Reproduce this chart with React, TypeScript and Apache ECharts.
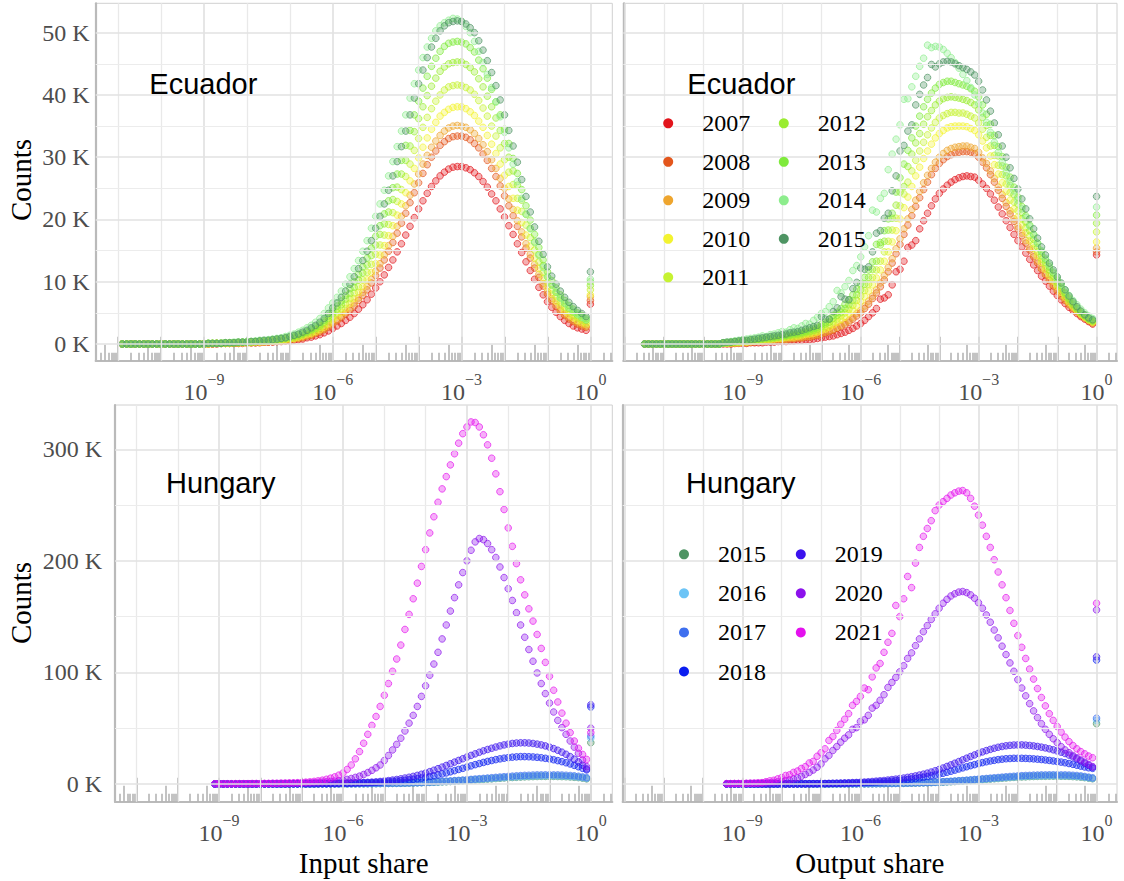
import React, { useEffect, useRef } from "react";
import * as echarts from "echarts";

const SERIF = '"Liberation Serif", "Times New Roman", serif';
const SANS = '"Liberation Sans", Arial, sans-serif';
const STEP = 0.1; // bin width in log10(share)

// ---------- categories / labels ----------
const EC_YEARS = ["2007", "2008", "2009", "2010", "2011", "2012", "2013", "2014", "2015"];
const HU_YEARS = ["2015", "2016", "2017", "2018", "2019", "2020", "2021"];
const EC_COLORS = ["#E2141B", "#E3561C", "#EEA52E", "#F3F330", "#C6F232", "#9AEC31", "#7FEA3C", "#8DED8D", "#4E9463"];
const HU_COLORS = ["#4E9463", "#6CC4F6", "#3E6FEF", "#0A1DF0", "#3B12EE", "#8C12EC", "#E411EE"];
const X_LABELS = [-9, -6, -3, 0]; // log10 positions of 10^-9 ... 10^0
const EC_Y_TICKS = [0, 10, 20, 30, 40, 50]; // thousands
const EC_Y_MINOR = [5, 15, 25, 35, 45];
const HU_Y_TICKS = [0, 100, 200, 300];
const HU_Y_MINOR = [50, 150, 250];

// ---------- Ecuador, input share (counts in K), bins from log10 = -10.9 ----------
const EC_IN_FIRST = -10.9;
const EC_IN_2007 = [
  0,0,0,0,0,0,0,0,0,0,0,0,0,0,0,0,0,0,0,0,
  0,0,0,0.1,0.1,0.1,0.1,0.1,0.1,0.2,
  0.2,0.2,0.2,0.3,0.3,0.3,0.4,0.4,0.5,0.5,
  0.6,0.7,0.8,1.0,1.1,1.3,1.5,1.8,2.1,2.5,
  2.9,3.3,3.8,4.3,4.9,5.6,6.3,7.1,8.0,9.0,
  10.0,11.1,12.3,13.5,14.8,16.1,17.5,18.9,20.3,21.7,
  23.0,24.2,25.3,26.2,27.0,27.6,28.1,28.4,28.5,28.5,
  28.3,28.0,27.5,26.9,26.1,25.2,24.1,23.0,21.7,20.4,
  19.0,17.6,16.1,14.7,13.2,11.8,10.4,9.1,7.9,6.8,
  5.9,5.1,4.4,3.8,3.3,2.9,2.6,2.4,2.2,
];
const EC_IN_2008 = [
  0,0,0,0,0,0,0,0,0,0,0,0,0,0,0,0,0,0,0,0,
  0,0,0.1,0.1,0.1,0.1,0.1,0.1,0.2,0.2,
  0.2,0.2,0.3,0.3,0.3,0.4,0.4,0.5,0.5,0.6,
  0.8,0.9,1.0,1.3,1.4,1.7,1.9,2.3,2.7,3.2,
  3.7,4.2,4.8,5.4,6.1,7.0,7.8,8.7,9.8,11.0,
  12.2,13.5,14.9,16.3,17.8,19.4,21.0,22.7,24.3,25.9,
  27.4,28.8,30.0,31.0,31.9,32.5,33.0,33.3,33.4,33.4,
  33.2,32.8,32.2,31.5,30.5,29.5,28.2,26.9,25.4,23.8,
  22.2,20.6,18.9,17.2,15.4,13.8,12.2,10.7,9.3,8.0,
  7.0,6.0,5.3,4.6,4.0,3.6,3.2,2.9,2.7,
];
const EC_IN_2009 = [
  0,0,0,0,0,0,0,0,0,0,0,0,0,0,0,0,0,0,0,0,
  0,0,0.1,0.1,0.1,0.1,0.1,0.2,0.2,0.2,
  0.2,0.3,0.3,0.3,0.4,0.4,0.5,0.5,0.6,0.7,
  0.8,0.9,1.1,1.3,1.5,1.8,2.1,2.4,2.9,3.4,
  3.9,4.5,5.1,5.8,6.6,7.4,8.3,9.3,10.4,11.7,
  12.9,14.3,15.8,17.3,18.9,20.5,22.2,23.9,25.7,27.3,
  28.9,30.3,31.6,32.6,33.5,34.2,34.7,35.0,35.1,35.0,
  34.8,34.4,33.8,33.0,32.0,30.9,29.6,28.2,26.6,25.0,
  23.3,21.6,19.8,18.0,16.1,14.4,12.8,11.2,9.7,8.4,
  7.3,6.4,5.5,4.8,4.3,3.8,3.4,3.1,2.8,
];
const EC_IN_2010 = [
  0,0,0,0,0,0,0,0,0,0,0,0,0,0,0,0,0,0,0,0,
  0,0.1,0.1,0.1,0.1,0.1,0.2,0.2,0.2,0.2,
  0.3,0.3,0.3,0.4,0.4,0.5,0.5,0.6,0.7,0.8,
  0.9,1.1,1.3,1.5,1.7,2.0,2.3,2.7,3.2,3.9,
  4.4,5.0,5.7,6.5,7.3,8.3,9.2,10.3,11.5,12.9,
  14.3,15.8,17.4,19.0,20.7,22.5,24.3,26.2,28.2,29.9,
  31.6,33.1,34.5,35.6,36.6,37.2,37.7,38.0,38.1,38.1,
  37.8,37.3,36.7,35.8,34.8,33.5,32.1,30.6,28.9,27.1,
  25.3,23.4,21.5,19.5,17.5,15.7,13.8,12.1,10.6,9.1,
  8.0,6.9,6.1,5.3,4.7,4.2,3.7,3.4,3.1,
];
const EC_IN_2011 = [
  0,0,0,0,0,0,0,0,0,0,0,0,0,0,0,0,0,0,0,0,
  0.1,0.1,0.1,0.1,0.1,0.2,0.2,0.2,0.2,0.3,
  0.3,0.3,0.4,0.4,0.5,0.5,0.6,0.7,0.8,0.9,
  1.0,1.2,1.4,1.7,1.9,2.3,2.6,3.1,3.7,4.3,
  5.0,5.7,6.4,7.3,8.2,9.2,10.3,11.5,12.8,14.4,
  15.9,17.5,19.2,21.1,22.9,24.8,26.9,28.9,31.1,33.0,
  34.8,36.4,37.8,39.0,40.0,40.8,41.3,41.5,41.6,41.5,
  41.2,40.8,40.1,39.1,37.9,36.6,35.0,33.4,31.5,29.6,
  27.6,25.6,23.4,21.3,19.1,17.1,15.1,13.2,11.5,9.9,
  8.7,7.6,6.7,5.9,5.2,4.6,4.2,3.8,3.4,
];
const EC_IN_2012 = [
  0,0,0,0,0,0,0,0,0,0,0,0,0,0,0,0,0,0,0,0,
  0.1,0.1,0.1,0.1,0.2,0.2,0.2,0.2,0.3,0.3,
  0.3,0.4,0.4,0.5,0.5,0.6,0.7,0.8,0.9,1.0,
  1.2,1.3,1.6,1.9,2.2,2.5,2.9,3.5,4.1,4.9,
  5.6,6.3,7.2,8.1,9.1,10.3,11.4,12.7,14.2,15.9,
  17.6,19.3,21.2,23.2,25.2,27.3,29.5,31.8,34.1,36.2,
  38.1,39.9,41.4,42.7,43.8,44.5,45.0,45.2,45.3,45.3,
  44.9,44.4,43.7,42.6,41.3,39.8,38.1,36.3,34.3,32.2,
  30.0,27.8,25.5,23.1,20.8,18.6,16.4,14.4,12.6,10.8,
  9.5,8.3,7.4,6.5,5.7,5.1,4.6,4.2,3.8,
];
const EC_IN_2013 = [
  0,0,0,0,0,0,0,0,0,0,0,0,0,0,0,0,0,0,0,0,
  0.1,0.1,0.1,0.1,0.2,0.2,0.2,0.3,0.3,0.3,
  0.4,0.4,0.5,0.5,0.6,0.7,0.8,0.9,1.0,1.1,
  1.3,1.5,1.7,2.0,2.4,2.8,3.2,3.8,4.5,5.3,
  6.1,6.9,7.8,8.9,10.0,11.2,12.4,13.8,15.4,17.3,
  19.0,20.9,23.0,25.1,27.3,29.5,31.9,34.3,36.8,39.0,
  41.1,43.0,44.6,45.9,47.0,47.8,48.3,48.5,48.6,48.5,
  48.2,47.6,46.9,45.6,44.2,42.7,40.9,38.9,36.8,34.5,
  32.2,29.8,27.4,24.8,22.2,19.9,17.6,15.5,13.5,11.6,
  10.2,9.0,7.9,7.0,6.2,5.6,5.0,4.6,4.1,
];
const EC_IN_2014 = [
  0,0,0,0,0,0,0,0,0,0,0,0,0,0,0,0,0,0,0,0,
  0.1,0.1,0.1,0.2,0.2,0.2,0.3,0.3,0.3,0.4,
  0.4,0.5,0.6,0.6,0.7,0.8,0.9,1.0,1.2,1.4,
  1.6,1.9,2.2,2.6,3.0,3.5,4.1,4.9,5.8,6.6,
  7.5,8.5,9.6,10.8,12.1,13.4,14.9,16.6,18.6,20.5,
  22.5,24.7,27.0,29.3,31.7,34.2,36.8,39.5,41.8,44.0,
  46.0,47.7,49.1,50.3,51.1,51.6,52.0,52.3,52.2,51.8,
  51.0,50.0,48.6,47.0,45.2,43.3,41.2,38.9,36.5,34.0,
  31.5,28.9,26.1,23.4,20.9,18.5,16.3,14.2,12.3,10.8,
  9.5,8.4,7.4,6.6,5.9,5.3,4.8,4.3,3.9,
];
const EC_IN_2015 = [
  0,0,0,0,0,0,0,0,0,0,0,0,0,0,0,0,0,0,0,0,
  0.1,0.1,0.1,0.1,0.2,0.2,0.2,0.3,0.3,0.3,
  0.4,0.4,0.5,0.6,0.6,0.7,0.8,0.9,1.0,1.2,
  1.4,1.6,1.9,2.2,2.6,3.0,3.5,4.1,4.9,5.8,
  6.6,7.5,8.5,9.6,10.8,12.1,13.4,14.9,16.6,18.6,
  20.5,22.5,24.7,27.0,29.3,31.7,34.2,36.8,39.5,41.8,
  44.0,46.0,47.7,49.1,50.3,51.1,51.6,51.8,51.9,51.8,
  51.4,50.8,50.0,48.7,47.2,45.5,43.6,41.5,39.2,36.8,
  34.3,31.8,29.2,26.4,23.7,21.2,18.8,16.5,14.4,12.4,
  10.9,9.6,8.5,7.5,6.7,6.0,5.4,4.9,4.4,
];
const EC_IN_AT_ONE = [6.4, 7.0, 7.6, 7.9, 8.7, 9.4, 10.0, 10.4, 11.6]; // share = 1

// ---------- Ecuador, output share, bins from log10 = -11.5 ----------
const EC_OUT_FIRST = -11.5;
const EC_OUT_2007 = [
  0,0,0,0,0,0,0,0,0,0,0,0,0,0,0,0,0,0,0,0,
  0,0,0,0.1,0.1,
  0.1,0.1,0.2,0.2,0.2,0.2,0.3,0.3,0.3,0.4,
  0.4,0.4,0.5,0.5,0.6,0.6,0.7,0.7,0.8,0.9,
  1.0,1.1,1.2,1.3,1.5,1.7,1.9,2.2,2.5,2.9,
  3.3,3.8,4.4,5.0,5.7,7.2,7.4,7.9,9.5,11.6,
  12.0,13.3,15.5,15.9,16.6,18.5,19.8,21.0,22.2,23.3,
  24.2,24.9,25.5,26.0,26.4,26.7,26.9,27.0,26.9,26.8,
  26.3,25.7,25.0,24.1,23.1,22.0,20.9,19.8,18.7,17.6,
  16.6,15.6,14.6,13.6,12.7,11.8,10.9,10.1,9.3,8.5,
  7.8,7.1,6.5,5.9,5.4,4.9,4.4,4.0,3.6,3.2,
];
const EC_OUT_2008 = [
  0,0,0,0,0,0,0,0,0,0,0,0,0,0,0,0,0,0,0,0,
  0.1,0.1,0.1,0.1,0.2,
  0.2,0.2,0.3,0.3,0.4,0.4,0.5,0.5,0.5,0.6,
  0.7,0.7,0.8,0.8,0.9,1.0,1.1,1.1,1.3,1.4,
  1.6,1.8,2.0,2.2,2.5,2.8,3.1,3.5,4.0,4.5,
  5.0,5.7,6.4,7.3,8.2,9.2,10.3,11.6,13.0,14.5,
  16.0,17.6,19.1,20.6,22.1,23.5,24.8,26.0,27.2,28.2,
  29.0,29.6,30.1,30.4,30.7,30.8,30.9,30.9,30.8,30.6,
  30.0,29.2,28.3,27.2,26.0,24.7,23.4,22.1,20.9,19.7,
  18.5,17.4,16.2,15.1,14.0,13.0,12.0,11.1,10.2,9.3,
  8.5,7.7,7.0,6.3,5.7,5.2,4.6,4.2,3.7,3.4,
];
const EC_OUT_2009 = [
  0,0,0,0,0,0,0,0,0,0,0,0,0,0,0,0,0,0,0,0,
  0.1,0.1,0.1,0.1,0.2,
  0.2,0.2,0.3,0.4,0.4,0.4,0.5,0.6,0.6,0.7,
  0.7,0.7,0.9,0.9,1.0,1.0,1.2,1.2,1.4,1.5,
  1.7,1.9,2.1,2.4,2.7,3.0,3.4,3.8,4.3,4.9,
  5.4,6.1,6.9,7.7,8.7,9.8,11.0,12.3,13.7,15.3,
  16.9,18.5,20.1,21.6,23.1,24.5,25.9,27.1,28.2,29.2,
  30.0,30.6,31.1,31.4,31.6,31.7,31.8,31.8,31.6,31.4,
  30.8,29.9,29.0,27.8,26.6,25.2,24.0,22.7,21.4,20.1,
  18.9,17.8,16.6,15.4,14.3,13.3,12.2,11.3,10.3,9.5,
  8.6,7.9,7.1,6.4,5.8,5.2,4.7,4.2,3.8,3.4,
];
const EC_OUT_2010 = [
  0,0,0,0,0,0,0,0,0,0,0,0,0,0,0,0,0,0,0,0,
  0.1,0.1,0.2,0.2,0.2,
  0.3,0.3,0.4,0.5,0.5,0.6,0.7,0.7,0.8,0.9,
  0.9,1.0,1.1,1.1,1.2,1.3,1.5,1.6,1.7,1.9,
  2.2,2.4,2.7,3.1,3.5,3.9,4.3,4.9,5.4,6.1,
  6.8,7.6,8.5,9.5,10.6,11.9,13.3,14.8,16.4,18.2,
  20.1,21.9,23.6,25.3,27.0,28.4,29.8,31.0,32.1,33.1,
  33.8,34.3,34.7,34.9,35.0,35.0,35.0,34.9,34.6,34.3,
  33.6,32.6,31.5,30.2,28.8,27.3,25.9,24.5,23.1,21.7,
  20.4,19.1,17.9,16.6,15.4,14.2,13.1,12.0,11.0,10.1,
  9.2,8.3,7.5,6.7,6.0,5.4,4.8,4.3,3.9,3.5,
];
const EC_OUT_2011 = [
  0,0,0,0,0,0,0,0,0,0,0,0,0,0,0,0,0,0,0,0,
  0.1,0.2,0.2,0.3,0.3,
  0.4,0.4,0.5,0.5,0.6,0.7,0.8,0.8,0.9,1.0,
  1.0,1.1,1.3,1.3,1.4,1.5,1.7,1.8,2.0,2.1,
  2.5,2.8,3.1,3.6,4.0,4.5,5.0,5.6,6.2,7.0,
  7.7,8.6,9.6,10.7,11.9,13.3,14.8,16.5,18.3,20.2,
  22.2,24.1,26.0,27.8,29.5,31.0,32.4,33.6,34.7,35.6,
  36.3,36.7,37.0,37.2,37.2,37.1,37.1,36.9,36.6,36.3,
  35.5,34.5,33.2,31.8,30.3,28.7,27.2,25.7,24.3,22.8,
  21.4,20.1,18.7,17.4,16.1,14.8,13.6,12.5,11.4,10.5,
  9.5,8.7,7.8,6.9,6.2,5.5,4.9,4.4,3.9,3.6,
];
const EC_OUT_2012 = [
  0,0,0,0,0,0,0,0,0,0,0,0,0,0,0,0,0,0,0,0,
  0.2,0.2,0.3,0.3,0.4,
  0.5,0.5,0.6,0.6,0.7,0.8,0.9,0.9,1.0,1.1,
  1.2,1.3,1.4,1.5,1.6,1.7,1.9,2.0,2.2,2.4,
  2.8,3.2,3.5,4.1,4.6,5.1,5.7,6.3,7.0,7.9,
  8.7,9.6,10.7,12.0,13.3,15.9,16.5,18.3,20.2,22.3,
  24.4,25.3,28.5,30.5,32.3,33.8,35.3,36.5,37.5,38.4,
  39.0,39.4,39.6,39.7,39.6,39.5,39.3,39.1,38.8,38.4,
  37.6,36.4,35.1,33.5,31.9,30.2,28.6,27.0,25.5,24.0,
  22.5,21.1,19.6,18.2,16.8,15.5,14.2,13.1,11.9,10.9,
  9.9,9.0,8.1,7.2,6.4,5.7,5.0,4.5,4.0,3.7,
];
const EC_OUT_2013 = [
  0,0,0,0,0,0,0,0,0,0,0,0,0,0,0,0,0,0,0,0,
  0.2,0.2,0.3,0.4,0.4,
  0.5,0.5,0.6,0.7,0.8,0.9,1.0,1.1,1.1,1.2,
  1.3,1.4,1.6,1.7,1.8,1.9,2.1,2.3,2.5,2.7,
  3.2,3.5,4.0,4.6,5.1,5.7,6.4,7.1,7.9,8.8,
  9.7,10.7,11.9,13.2,16.0,16.3,18.2,20.1,21.0,24.4,
  26.7,28.9,31.1,33.1,35.0,36.6,38.1,39.3,40.3,41.1,
  41.7,42.0,42.2,42.2,42.0,41.8,41.6,41.4,41.0,40.6,
  39.7,38.4,36.9,35.3,33.5,31.7,30.1,28.4,26.8,25.2,
  23.6,22.1,20.6,19.1,17.6,16.2,14.8,13.6,12.4,11.4,
  10.3,9.4,8.3,7.4,6.6,5.8,5.2,4.6,4.1,3.8,
];
const EC_OUT_2014 = [
  0,0,0,0,0,0,0,0,0,0,0,0,0,0,0,0,0,0,0,0,
  0.2,0.3,0.4,0.5,0.6,
  0.7,0.8,0.9,1.0,1.1,1.3,1.2,1.5,1.6,1.8,
  2.0,1.9,2.3,2.6,2.5,2.9,3.3,3.2,3.8,4.3,
  4.9,5.2,6.0,6.8,8.6,8.2,9.2,10.2,11.8,12.6,
  14.0,15.6,17.4,21.5,21.2,23.4,24.2,28.0,30.5,32.9,
  35.2,39.3,39.4,41.3,43.0,44.6,45.9,48.0,47.6,47.8,
  47.7,47.3,46.7,46.0,45.2,44.3,43.3,42.3,41.2,40.0,
  38.6,37.1,35.6,34.0,32.4,30.8,29.2,27.6,26.1,24.6,
  23.1,21.7,20.3,18.9,17.5,16.2,15.0,13.8,12.7,11.6,
  10.6,9.6,8.7,7.8,7.0,6.3,5.6,5.0,4.5,4.1,
];
const EC_OUT_2015 = [
  0,0,0,0,0,0,0,0,0,0,0,0,0,0,0,0,0,0,0,0,
  0.2,0.3,0.3,0.4,0.5,
  0.6,0.6,0.7,0.8,0.9,1.0,1.1,1.2,1.3,1.4,
  1.5,1.6,1.8,1.9,2.0,2.2,2.4,2.6,2.8,3.0,
  4.4,4.0,4.0,5.2,5.8,7.6,7.2,7.1,8.9,9.9,
  12.2,12.0,12.4,14.8,17.8,18.2,20.2,21.0,24.6,27.0,
  31.0,31.9,34.2,35.2,38.4,40.1,41.6,42.8,44.9,44.5,
  45.0,45.3,45.4,45.3,45.0,44.7,44.4,44.1,43.7,43.2,
  42.2,40.8,39.2,37.4,35.5,33.6,31.8,30.0,28.3,26.6,
  24.9,23.3,21.7,20.1,18.5,17.0,15.6,14.3,13.0,11.9,
  10.8,9.8,8.7,7.7,6.8,6.0,5.3,4.7,4.2,3.9,
];
const EC_OUT_AT_ONE = [14.3, 14.8, 15.4, 16.4, 18.0, 19.4, 20.7, 22.0, 23.7];

// ---------- Hungary, input share, bins from log10 = -9.1 ----------
const HU_IN_FIRST = -9.1;
const HU_IN_2015 = [
  0,0,0,0,0,0,0,0,0,0,
  0,0,0,0,0,0,0,0,0,0,
  0,0,0,0,0,0,0.1,0.1,0.1,0.1,
  0.1,0.1,0.1,0.2,0.2,0.2,0.2,0.3,0.3,0.3,
  0.4,0.4,0.5,0.5,0.6,0.6,0.7,0.8,0.9,1.0,
  1.1,1.2,1.4,1.5,1.7,1.9,2.0,2.2,2.5,2.7,
  2.9,3.1,3.4,3.6,3.9,4.1,4.4,4.6,4.9,5.1,
  5.4,5.6,5.8,6.0,6.2,6.4,6.5,6.6,6.7,6.8,
  6.8,6.8,6.8,6.7,6.6,6.5,6.3,6.0,5.7,5.2,4.6,
];
const HU_IN_2016 = [
  0,0,0,0,0,0,0,0,0,0,
  0,0,0,0,0,0,0,0,0,0,
  0,0,0,0,0,0.1,0.1,0.1,0.1,0.1,
  0.1,0.1,0.2,0.2,0.2,0.2,0.3,0.3,0.3,0.4,
  0.4,0.5,0.5,0.6,0.6,0.7,0.8,0.9,1.0,1.1,
  1.2,1.3,1.5,1.6,1.8,2.0,2.2,2.4,2.6,2.8,
  3.1,3.3,3.6,3.9,4.1,4.4,4.7,4.9,5.2,5.5,
  5.7,6.0,6.2,6.4,6.6,6.8,6.9,7.1,7.2,7.2,
  7.3,7.3,7.2,7.2,7.1,6.9,6.7,6.5,6.1,5.6,5.0,
];
const HU_IN_2017 = [
  0,0,0,0,0,0,0,0,0,0,
  0,0,0,0,0,0,0,0,0,0,
  0,0,0,0,0.1,0.1,0.1,0.1,0.1,0.1,
  0.1,0.2,0.2,0.2,0.2,0.3,0.3,0.3,0.4,0.4,
  0.5,0.5,0.6,0.7,0.7,0.8,0.9,1.0,1.1,1.2,
  1.4,1.5,1.7,1.9,2.1,2.3,2.5,2.7,3.0,3.2,
  3.5,3.8,4.1,4.4,4.7,5.0,5.3,5.6,5.9,6.2,
  6.5,6.8,7.0,7.3,7.5,7.7,7.8,8.0,8.1,8.1,
  8.2,8.2,8.1,8.1,8.0,7.8,7.6,7.3,6.9,6.3,5.6,
];
const HU_IN_2018 = [
  0,0,0,0,0,0,0,0,0,0,
  0,0,0,0,0.1,0.1,0.1,0.1,0.1,0.1,
  0.1,0.2,0.2,0.2,0.2,0.3,0.3,0.3,0.4,0.4,
  0.5,0.5,0.6,0.7,0.8,0.9,1.0,1.1,1.2,1.4,
  1.6,1.8,2.0,2.3,2.6,2.9,3.3,3.7,4.2,4.7,
  5.3,5.9,6.6,7.3,8.1,9.0,9.9,10.9,11.9,13.0,
  14.0,15.1,16.2,17.3,18.3,19.3,20.2,21.0,21.8,22.5,
  23.1,23.6,24.0,24.3,24.5,24.5,24.4,24.2,23.9,23.5,
  23.0,22.4,21.7,20.9,20.0,19.0,17.9,16.7,15.4,14.0,12.6,
];
const HU_IN_2019 = [
  0,0,0,0,0,0,0,0,0,0,
  0,0,0,0.1,0.1,0.1,0.1,0.1,0.1,0.2,
  0.2,0.2,0.2,0.3,0.3,0.3,0.4,0.4,0.5,0.5,
  0.6,0.7,0.8,0.9,1.0,1.1,1.3,1.4,1.6,1.8,
  2.2,2.6,3.0,3.5,4.0,4.6,5.3,6.0,6.8,7.7,
  8.7,9.8,11.0,12.3,13.7,15.1,16.6,18.1,19.6,21.1,
  22.6,24.1,25.6,27.0,28.4,29.7,30.9,32.0,33.1,34.1,
  35.0,35.7,36.3,36.7,36.9,36.9,36.7,36.3,35.7,35.0,
  34.1,33.0,31.7,30.2,28.5,26.6,24.5,22.2,19.7,16.8,13.5,
];
const HU_IN_2020 = [
  0.1,0.1,0.1,0.1,0.1,0.1,0.2,0.2,0.2,0.2,
  0.2,0.3,0.3,0.3,0.4,0.4,0.5,0.5,0.6,0.6,
  0.7,0.8,0.9,1.0,1.2,1.4,1.6,1.9,2.2,2.5,
  2.9,3.4,4.1,4.9,5.9,7.0,8.5,10.2,12.2,14.5,
  17.0,21.0,25.5,30.5,35.5,41.0,47.5,54.5,61.5,69.5,
  78.5,88.0,97.5,107.5,118.0,130.0,142.5,155.0,167.0,178.5,
  189.5,200.0,209.5,217.0,220.0,219.0,215.5,210.0,203.0,194.5,
  185.0,175.0,164.5,153.5,142.5,131.5,120.5,110.0,99.5,90.0,
  81.0,72.5,64.5,57.0,50.5,44.5,38.5,33.0,27.5,21.5,15.5,
];
const HU_IN_2021 = [
  0.2,0.2,0.2,0.2,0.2,0.3,0.3,0.3,0.3,0.4,
  0.4,0.4,0.5,0.5,0.6,0.6,0.7,0.8,0.9,1.0,
  1.1,1.3,1.6,1.9,2.3,2.8,3.4,4.2,5.2,6.4,
  7.9,9.8,13.0,17.0,22.5,29.0,36.5,44.5,52.5,60.5,
  69.5,79.5,90.0,101.0,112.0,124.5,138.5,152.0,166.0,180.0,
  195.0,210.0,225.0,239.5,252.5,264.5,275.5,286.0,296.0,305.5,
  314.0,320.0,324.5,324.0,320.0,313.0,304.0,292.0,278.0,262.0,
  246.0,229.5,213.0,197.5,183.0,169.5,157.0,146.0,134.0,121.5,
  109.0,96.5,84.0,73.5,63.5,54.5,46.0,38.5,32.0,26.5,22.0,
];
const HU_IN_AT_ONE = [37, 41, 43, 69, 71, 50, 46];

// ---------- Hungary, output share, bins from log10 = -9.4 ----------
const HU_OUT_FIRST = -9.4;
const HU_OUT_2015 = [
  0,0,0,0,0,0,0,0,0,0,
  0,0,0,0,0,0,0,0,0,0,
  0,0,0,0,0,0,0,0.1,0.1,0.1,
  0.1,0.1,0.1,0.1,0.2,0.2,0.2,0.2,0.3,0.3,
  0.3,0.4,0.4,0.5,0.5,0.6,0.7,0.7,0.8,0.9,
  1.0,1.1,1.2,1.4,1.5,1.7,1.9,2.0,2.2,2.5,
  2.6,2.9,3.1,3.4,3.6,3.9,4.2,4.4,4.7,4.9,
  5.2,5.4,5.7,5.9,6.1,6.3,6.4,6.6,6.7,6.8,
  6.9,6.9,7.0,7.0,7.0,6.9,6.9,6.8,6.6,6.4,
  6.1,5.7,5.2,4.7,
];
const HU_OUT_2016 = [
  0,0,0,0,0,0,0,0,0,0,
  0,0,0,0,0,0,0,0,0,0,
  0,0,0,0,0,0,0,0.1,0.1,0.1,
  0.1,0.1,0.1,0.2,0.2,0.2,0.2,0.3,0.3,0.3,
  0.4,0.4,0.5,0.5,0.6,0.6,0.7,0.8,0.9,1.0,
  1.1,1.2,1.3,1.5,1.6,1.8,2.0,2.2,2.4,2.6,
  2.8,3.1,3.3,3.6,3.9,4.1,4.4,4.7,5.0,5.2,
  5.5,5.8,6.0,6.2,6.5,6.7,6.8,7.0,7.1,7.2,
  7.3,7.3,7.4,7.4,7.4,7.3,7.3,7.2,7.0,6.8,
  6.5,6.0,5.5,5.0,
];
const HU_OUT_2017 = [
  0,0,0,0,0,0,0,0,0,0,
  0,0,0,0,0,0,0,0,0,0,
  0,0,0,0,0,0,0.1,0.1,0.1,0.1,
  0.1,0.1,0.2,0.2,0.2,0.2,0.3,0.3,0.3,0.4,
  0.4,0.5,0.5,0.6,0.6,0.7,0.8,0.9,1.0,1.1,
  1.2,1.3,1.5,1.6,1.8,2.0,2.2,2.4,2.6,2.9,
  3.1,3.4,3.7,4.0,4.3,4.6,4.9,5.2,5.5,5.8,
  6.1,6.4,6.7,6.9,7.2,7.4,7.6,7.7,7.9,8.0,
  8.1,8.1,8.2,8.2,8.2,8.1,8.1,8.0,7.8,7.6,
  7.2,6.7,6.1,5.5,
];
const HU_OUT_2018 = [
  0,0,0,0,0,0,0,0,0,0,
  0,0,0,0,0,0,0.1,0.1,0.1,0.1,
  0.1,0.2,0.2,0.2,0.3,0.3,0.3,0.4,0.4,0.5,
  0.6,0.7,0.8,0.9,1.0,1.1,1.3,1.4,1.6,1.8,
  2.0,2.3,2.5,2.8,3.2,3.5,3.9,4.4,4.9,5.4,
  6.0,6.6,7.3,8.0,8.8,9.6,10.5,11.4,12.4,13.4,
  14.4,15.4,16.4,17.3,18.2,19.1,19.9,20.6,21.2,21.8,
  22.2,22.6,22.8,23.0,23.0,23.0,22.9,22.7,22.5,22.2,
  21.9,21.5,21.1,20.6,20.1,19.6,19.0,18.3,17.6,16.8,
  16.0,15.2,14.5,14.0,
];
const HU_OUT_2019 = [
  0,0,0,0,0,0,0,0,0,0,
  0,0,0,0,0.1,0.1,0.1,0.1,0.1,0.2,
  0.2,0.2,0.3,0.3,0.4,0.4,0.5,0.6,0.7,0.8,
  0.9,1.0,1.2,1.3,1.5,1.7,1.9,2.2,2.5,2.8,
  3.1,3.5,3.9,4.3,4.8,5.3,5.9,6.5,7.2,8.0,
  8.8,9.7,10.7,11.8,13.0,14.3,15.7,17.1,18.6,20.1,
  21.6,23.1,24.6,26.0,27.4,28.7,29.9,31.0,32.0,32.9,
  33.6,34.2,34.6,34.9,35.0,35.0,34.8,34.5,34.1,33.6,
  33.0,32.3,31.5,30.6,29.6,28.5,27.3,25.9,24.3,22.5,
  20.6,18.6,16.7,15.0,
];
const HU_OUT_2020 = [
  0.2,0.2,0.3,0.3,0.3,0.4,0.5,0.5,0.6,0.7,
  0.9,1.1,1.4,1.8,2.3,3.0,3.6,4.5,5.5,6.8,
  8.5,10.3,12.5,15.0,18.0,22.5,25.5,30.0,33.5,37.5,
  41.0,44.0,49.0,50.5,56.0,57.5,61.5,68.0,70.5,75.0,
  80.0,86.5,91.0,95.5,100.5,106.0,112.5,117.5,124.0,130.0,
  136.5,142.0,147.5,152.5,157.5,162.0,165.5,168.5,170.5,172.0,
  172.5,171.5,169.5,166.5,162.5,157.5,151.5,145.0,138.0,131.0,
  123.5,116.0,108.5,101.0,93.5,86.0,79.0,72.0,65.5,59.5,
  54.0,49.0,44.5,40.5,37.0,33.5,30.5,28.0,25.5,23.5,
  21.5,19.5,17.5,15.5,
];
const HU_OUT_2021 = [
  0.3,0.3,0.4,0.4,0.5,0.6,0.7,0.8,1.0,1.2,
  2.0,2.8,3.3,4.6,5.8,7.6,8.2,10.4,11.6,13.9,
  15.5,18.8,20.2,24.8,28.0,31.5,39.0,42.5,48.0,53.5,
  58.0,63.0,70.5,74.0,78.5,86.0,84.5,96.0,104.0,108.0,
  118.0,127.0,135.0,160.0,150.0,166.0,186.0,176.0,198.0,212.0,
  222.0,229.0,236.0,245.0,250.0,253.0,256.0,259.0,261.0,262.5,
  263.0,261.0,256.0,249.0,241.0,232.0,222.0,212.0,201.0,190.0,
  178.5,167.0,155.5,144.0,133.0,122.5,112.5,103.0,94.0,85.5,
  77.5,70.0,63.0,57.0,51.5,46.5,42.0,38.0,34.5,31.5,
  29.0,27.0,25.0,23.5,
];
const HU_OUT_AT_ONE = [54, 57, 59, 111, 114, 156, 162];

const EC_IN_SERIES = [EC_IN_2007, EC_IN_2008, EC_IN_2009, EC_IN_2010, EC_IN_2011, EC_IN_2012, EC_IN_2013, EC_IN_2014, EC_IN_2015];
const EC_OUT_SERIES = [EC_OUT_2007, EC_OUT_2008, EC_OUT_2009, EC_OUT_2010, EC_OUT_2011, EC_OUT_2012, EC_OUT_2013, EC_OUT_2014, EC_OUT_2015];
const HU_IN_SERIES = [HU_IN_2015, HU_IN_2016, HU_IN_2017, HU_IN_2018, HU_IN_2019, HU_IN_2020, HU_IN_2021];
const HU_OUT_SERIES = [HU_OUT_2015, HU_OUT_2016, HU_OUT_2017, HU_OUT_2018, HU_OUT_2019, HU_OUT_2020, HU_OUT_2021];

// ---------- layout (pixels) ----------
const PANELS = [
  { left: 95.7, top: 3.3, width: 516.6, height: 357.4, xMin: -11.52, xMax: 0.51, yMin: -2.68, yMax: 54.72,
    yTicks: EC_Y_TICKS, yMinor: EC_Y_MINOR, showY: true, yMargin: 6,
    first: EC_IN_FIRST, data: EC_IN_SERIES, atOne: EC_IN_AT_ONE, years: EC_YEARS, colors: EC_COLORS },
  { left: 623.3, top: 3.3, width: 493.7, height: 357.4, xMin: -12.04, xMax: 0.52, yMin: -2.68, yMax: 54.72,
    yTicks: EC_Y_TICKS, yMinor: EC_Y_MINOR, showY: false, yMargin: 6,
    first: EC_OUT_FIRST, data: EC_OUT_SERIES, atOne: EC_OUT_AT_ONE, years: EC_YEARS, colors: EC_COLORS },
  { left: 115, top: 405, width: 497.3, height: 396.7, xMin: -11.52, xMax: 0.52, yMin: -15.9, yMax: 339.7,
    yTicks: HU_Y_TICKS, yMinor: HU_Y_MINOR, showY: true, yMargin: 13,
    first: HU_IN_FIRST, data: HU_IN_SERIES, atOne: HU_IN_AT_ONE, years: HU_YEARS, colors: HU_COLORS },
  { left: 622.7, top: 405, width: 494.3, height: 396.7, xMin: -12.04, xMax: 0.52, yMin: -15.9, yMax: 339.7,
    yTicks: HU_Y_TICKS, yMinor: HU_Y_MINOR, showY: false, yMargin: 13,
    first: HU_OUT_FIRST, data: HU_OUT_SERIES, atOne: HU_OUT_AT_ONE, years: HU_YEARS, colors: HU_COLORS },
];

function rgba(hex: string, a: number) {
  const n = parseInt(hex.slice(1), 16);
  return `rgba(${(n >> 16) & 255},${(n >> 8) & 255},${n & 255},${a})`;
}

function logTicks(min: number, max: number, mults: number[]) {
  const out: number[] = [];
  for (let d = Math.floor(min) - 1; d <= Math.ceil(max); d++) {
    for (const m of mults) {
      const v = d + Math.log10(m);
      if (v >= min && v <= max) out.push(v);
    }
  }
  return out;
}

function toPoints(first: number, values: number[], atOne: number) {
  const pts: number[][] = values.map((v, i) => [Math.round((first + i * STEP) * 100) / 100, v]);
  pts.push([0, atOne]);
  return pts;
}

const xLabelRich = {
  b: { fontSize: 24, fontFamily: SERIF, color: "#4d4d4d", lineHeight: 32, verticalAlign: "bottom" },
  s: { fontSize: 16, fontFamily: SERIF, color: "#4d4d4d", lineHeight: 16, verticalAlign: "top" },
};

function buildOption() {
  const grid: any[] = [];
  const xAxis: any[] = [];
  const yAxis: any[] = [];
  const series: any[] = [];

  PANELS.forEach((p, pi) => {
    grid.push({
      left: p.left, top: p.top, width: p.width, height: p.height,
      show: true, borderColor: "#d0d0d0", borderWidth: 1, backgroundColor: "#ffffff",
    });
    const xi = xAxis.length;
    xAxis.push({
      type: "value", gridIndex: pi, min: p.xMin, max: p.xMax, position: "bottom",
      axisLine: { show: true, onZero: false, lineStyle: { color: "#bababa", width: 2.2 } },
      axisTick: { show: false },
      splitLine: { show: false },
      axisLabel: {
        show: true, customValues: X_LABELS, margin: 11,
        formatter: (v: number) => `{b|10}{s|${v === 0 ? "0" : "\u2212" + Math.abs(Math.round(v))}}`,
        rich: xLabelRich,
      },
    });
    const tickSets: [number[], number][] = [[[1], 24], [[5], 16], [[2, 3, 4, 6, 7, 8, 9], 8]];
    tickSets.forEach(([mults, len]) => {
      xAxis.push({
        type: "value", gridIndex: pi, min: p.xMin, max: p.xMax, position: "bottom",
        axisLine: { show: false, onZero: false },
        axisLabel: { show: false },
        splitLine: { show: false },
        axisTick: {
          show: true, inside: true, length: len, customValues: logTicks(p.xMin, p.xMax, mults),
          lineStyle: { color: "#b4b4b4", width: 1.6 },
        },
      });
    });
    yAxis.push({
      type: "value", gridIndex: pi, min: p.yMin, max: p.yMax,
      axisLine: { show: true, onZero: false, lineStyle: { color: "#bababa", width: 2.2 } },
      axisTick: { show: false },
      splitLine: { show: false },
      axisLabel: {
        show: p.showY, customValues: p.yTicks, margin: p.yMargin,
        formatter: (v: number) => `${v} K`,
        fontFamily: SERIF, fontSize: 24, color: "#4d4d4d",
      },
    });

    const vLines: any[] = [];
    for (let d = Math.ceil(p.xMin); d <= Math.floor(p.xMax); d++) {
      const major = d % 3 === 0;
      vLines.push({ xAxis: d, lineStyle: { type: "solid", color: major ? "#e0e0e0" : "#e9e9e9", width: major ? 1.6 : 1.3 } });
    }
    p.yTicks.forEach((v) => vLines.push({ yAxis: v, lineStyle: { type: "solid", color: "#e2e2e2", width: 1.6 } }));
    p.yMinor.forEach((v) => vLines.push({ yAxis: v, lineStyle: { type: "solid", color: "#ececec", width: 1.2 } }));
    series.push({
      type: "line", name: "grid-" + pi, xAxisIndex: xi, yAxisIndex: pi, data: [], silent: true, z: 1,
      markLine: { silent: true, symbol: ["none", "none"], label: { show: false }, animation: false, data: vLines },
    });

    p.data.forEach((vals, k) => {
      const c = p.colors[k];
      series.push({
        type: "scatter", name: p.years[k], xAxisIndex: xi, yAxisIndex: pi, z: 3,
        data: toPoints(p.first, vals, p.atOne[k]),
        symbol: "circle", symbolSize: 6.6, silent: true,
        itemStyle: { color: rgba(c, 0.42), borderColor: rgba(c, 0.85), borderWidth: 1 },
        emphasis: { disabled: true },
      });
    });
  });

  const legendBase = {
    orient: "vertical", itemWidth: 34, itemHeight: 10, selectedMode: false, z: 6,
    padding: [6, 18, 6, 0],
    textStyle: { fontFamily: SERIF, fontSize: 24, color: "#000", lineHeight: 24, padding: [0, 0, 0, 12] },
  };
  const legendItems = (years: string[], colors: string[], from: number, to: number) =>
    years.slice(from, to).map((y, i) => ({
      name: y, icon: "circle", itemStyle: { color: colors[from + i], borderWidth: 0, opacity: 1 },
    }));

  const legend = [
    { ...legendBase, left: 663.2, top: 105.3, itemGap: 14.5, data: legendItems(EC_YEARS, EC_COLORS, 0, 5) },
    { ...legendBase, left: 778.8, top: 105.3, itemGap: 14.5, data: legendItems(EC_YEARS, EC_COLORS, 5, 9) },
    { ...legendBase, left: 679, top: 536.3, itemGap: 15.07, data: legendItems(HU_YEARS, HU_COLORS, 0, 4) },
    { ...legendBase, left: 795.8, top: 536.3, itemGap: 15.07, data: legendItems(HU_YEARS, HU_COLORS, 4, 7) },
  ];

  const txt = (text: string, x: number, y: number, font: string, align: string, rot = 0) => ({
    type: "text", x, y, rotation: rot, z: 10, silent: true,
    style: { text, font, fill: "#000", textAlign: align, textVerticalAlign: "middle", align, verticalAlign: "middle" },
  });
  const box = (x: number, y: number, w: number, h: number) => ({
    type: "rect", z: 2, silent: true, shape: { x, y, width: w, height: h }, style: { fill: "#ffffff" },
  });

  const graphic = [
    box(650, 103, 218, 194),
    box(667, 535, 222, 156),
    txt("Ecuador", 149.3, 84, `29px ${SANS}`, "left"),
    txt("Ecuador", 687.3, 84, `29px ${SANS}`, "left"),
    txt("Hungary", 166, 482.5, `29px ${SANS}`, "left"),
    txt("Hungary", 686, 482.5, `29px ${SANS}`, "left"),
    txt("Counts", 21, 180, `29px ${SERIF}`, "center", Math.PI / 2),
    txt("Counts", 21, 603, `29px ${SERIF}`, "center", Math.PI / 2),
    txt("Input share", 363.7, 862.5, `29px ${SERIF}`, "center"),
    txt("Output share", 869.8, 862.5, `29px ${SERIF}`, "center"),
  ];

  return { animation: false, backgroundColor: "#ffffff", grid, xAxis, yAxis, series, legend, graphic };
}

export default function App() {
  const ref = useRef<HTMLDivElement>(null);
  useEffect(() => {
    if (!ref.current) return;
    const chart = echarts.init(ref.current, undefined, { renderer: "svg" });
    chart.setOption(buildOption() as any);
    return () => chart.dispose();
  }, []);
  return <div ref={ref} style={{ position: "absolute", left: 0, top: 0, width: 1124, height: 881 }} />;
}
